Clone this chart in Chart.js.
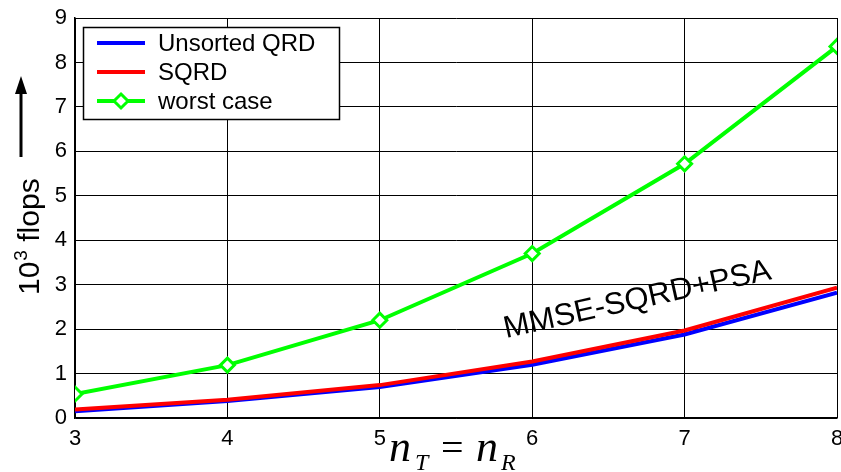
<!DOCTYPE html>
<html>
<head>
<meta charset="utf-8">
<script src="https://cdn.jsdelivr.net/npm/chart.js@4"></script>
<style>
  html, body { margin: 0; padding: 0; background: #fff; }
  #wrap { width: 841px; height: 472px; }
</style>
</head>
<body>
<div id="wrap"><canvas id="c" width="841" height="472"></canvas></div>
<script>
const antennas = [3, 4, 5, 6, 7, 8];
const unsortedQRD = [0.15, 0.38, 0.70, 1.20, 1.88, 2.82];
const sqrd = [0.19, 0.41, 0.74, 1.27, 1.97, 2.93];
const worstCase = [0.54, 1.19, 2.20, 3.70, 5.72, 8.36];

const yTicks = [0, 1, 2, 3, 4, 5, 6, 7, 8, 9];
const legendLabels = ['Unsorted QRD', 'SQRD', 'worst case'];
const annotationText = 'MMSE-SQRD+PSA';

const SANS = "'Liberation Sans', Arial, sans-serif";
const SERIF = "'Liberation Serif', 'Times New Roman', serif";

const toPts = vals => antennas.map((x, i) => ({ x, y: vals[i] }));

// legend, axis titles and the rotated label are drawn by hand
const extras = {
  id: 'extras',
  afterDatasetsDraw(chart) {
    const ctx = chart.ctx;
    ctx.save();

    // legend box
    const lx = 83, ly = 27, lw = 256, lh = 92;
    ctx.fillStyle = '#fff';
    ctx.fillRect(lx, ly, lw, lh);
    ctx.strokeStyle = '#000';
    ctx.lineWidth = 1.5;
    ctx.strokeRect(lx + 0.5, ly + 0.5, lw, lh);
    const colors = ['#0000ff', '#ff0000', '#00ff00'];
    ctx.font = '24px ' + SANS;
    ctx.textBaseline = 'middle';
    legendLabels.forEach((lbl, i) => {
      const y = 43 + i * 29;
      ctx.strokeStyle = colors[i];
      ctx.lineWidth = 4;
      ctx.beginPath();
      ctx.moveTo(97, y);
      ctx.lineTo(145, y);
      ctx.stroke();
      if (i === 2) {
        ctx.fillStyle = '#fff';
        ctx.lineWidth = 3;
        ctx.beginPath();
        ctx.moveTo(121, y - 7);
        ctx.lineTo(128, y);
        ctx.lineTo(121, y + 7);
        ctx.lineTo(114, y);
        ctx.closePath();
        ctx.fill();
        ctx.stroke();
      }
      ctx.fillStyle = '#000';
      ctx.fillText(lbl, 158, y + 1);
    });

    // rotated curve label
    ctx.save();
    ctx.translate(506, 338);
    ctx.rotate(-12.5 * Math.PI / 180);
    ctx.font = '31px ' + SANS;
    ctx.fillStyle = '#000';
    ctx.textBaseline = 'alphabetic';
    ctx.fillText(annotationText, 0, 0);
    ctx.restore();

    // y title with arrow
    ctx.save();
    ctx.translate(39, 295);
    ctx.rotate(-Math.PI / 2);
    ctx.fillStyle = '#000';
    ctx.textBaseline = 'alphabetic';
    ctx.font = '30px ' + SANS;
    ctx.fillText('10', 0, 0);
    let w = ctx.measureText('10').width;
    ctx.font = '19px ' + SANS;
    ctx.fillText('3', w + 1, -12);
    w += ctx.measureText('3').width + 1;
    ctx.font = '30px ' + SANS;
    ctx.fillText(' flops', w, 0);
    ctx.restore();

    ctx.strokeStyle = '#000';
    ctx.lineWidth = 3;
    ctx.beginPath();
    ctx.moveTo(21, 157);
    ctx.lineTo(21, 85);
    ctx.stroke();
    ctx.fillStyle = '#000';
    ctx.beginPath();
    ctx.moveTo(21, 76);
    ctx.lineTo(15, 94);
    ctx.lineTo(27, 94);
    ctx.closePath();
    ctx.fill();

    // x title  n_T = n_R
    ctx.fillStyle = '#000';
    ctx.textBaseline = 'alphabetic';
    ctx.font = 'italic 44px ' + SERIF;
    ctx.fillText('n', 389, 461);
    ctx.font = 'italic 24px ' + SERIF;
    ctx.fillText('T', 415, 470);
    ctx.font = '40px ' + SERIF;
    ctx.fillText('=', 441, 461);
    ctx.font = 'italic 44px ' + SERIF;
    ctx.fillText('n', 476, 461);
    ctx.font = 'italic 24px ' + SERIF;
    ctx.fillText('R', 501, 470);

    ctx.restore();
  }
};

new Chart(document.getElementById('c'), {
  type: 'line',
  data: {
    datasets: [
      {
        label: legendLabels[2], data: toPts(worstCase),
        borderColor: '#00ff00', borderWidth: 4,
        pointStyle: 'rectRot', pointRadius: 7, pointBorderWidth: 3,
        pointBackgroundColor: '#fff', pointBorderColor: '#00ff00', order: 0
      },
      {
        label: legendLabels[1], data: toPts(sqrd),
        borderColor: '#ff0000', borderWidth: 4, pointRadius: 0, order: 1
      },
      {
        label: legendLabels[0], data: toPts(unsortedQRD),
        borderColor: '#0000ff', borderWidth: 4, pointRadius: 0, order: 2
      }
    ]
  },
  options: {
    responsive: false,
    animation: false,
    layout: { autoPadding: false, padding: { top: 18, right: 4, left: 0, bottom: 0 } },
    plugins: { legend: { display: false }, tooltip: { enabled: false } },
    scales: {
      x: {
        type: 'linear', min: 3, max: 8,
        afterFit: s => { s.height = 54; s.paddingLeft = 0; s.paddingRight = 0; },
        ticks: { stepSize: 1, color: '#000', padding: 8, font: { family: SANS, size: 22 } },
        grid: { color: '#000', lineWidth: 1, drawTicks: false },
        border: { color: '#000', width: 1.5 }
      },
      y: {
        min: 0, max: 9,
        afterFit: s => { s.width = 75; s.paddingTop = 0; s.paddingBottom = 0; },
        afterBuildTicks: s => { s.ticks = yTicks.map(v => ({ value: v })); },
        ticks: { color: '#000', padding: 8, font: { family: SANS, size: 22 } },
        grid: { color: '#000', lineWidth: 1, drawTicks: false },
        border: { color: '#000', width: 1.5 }
      }
    }
  },
  plugins: [extras]
});
</script>
</body>
</html>
